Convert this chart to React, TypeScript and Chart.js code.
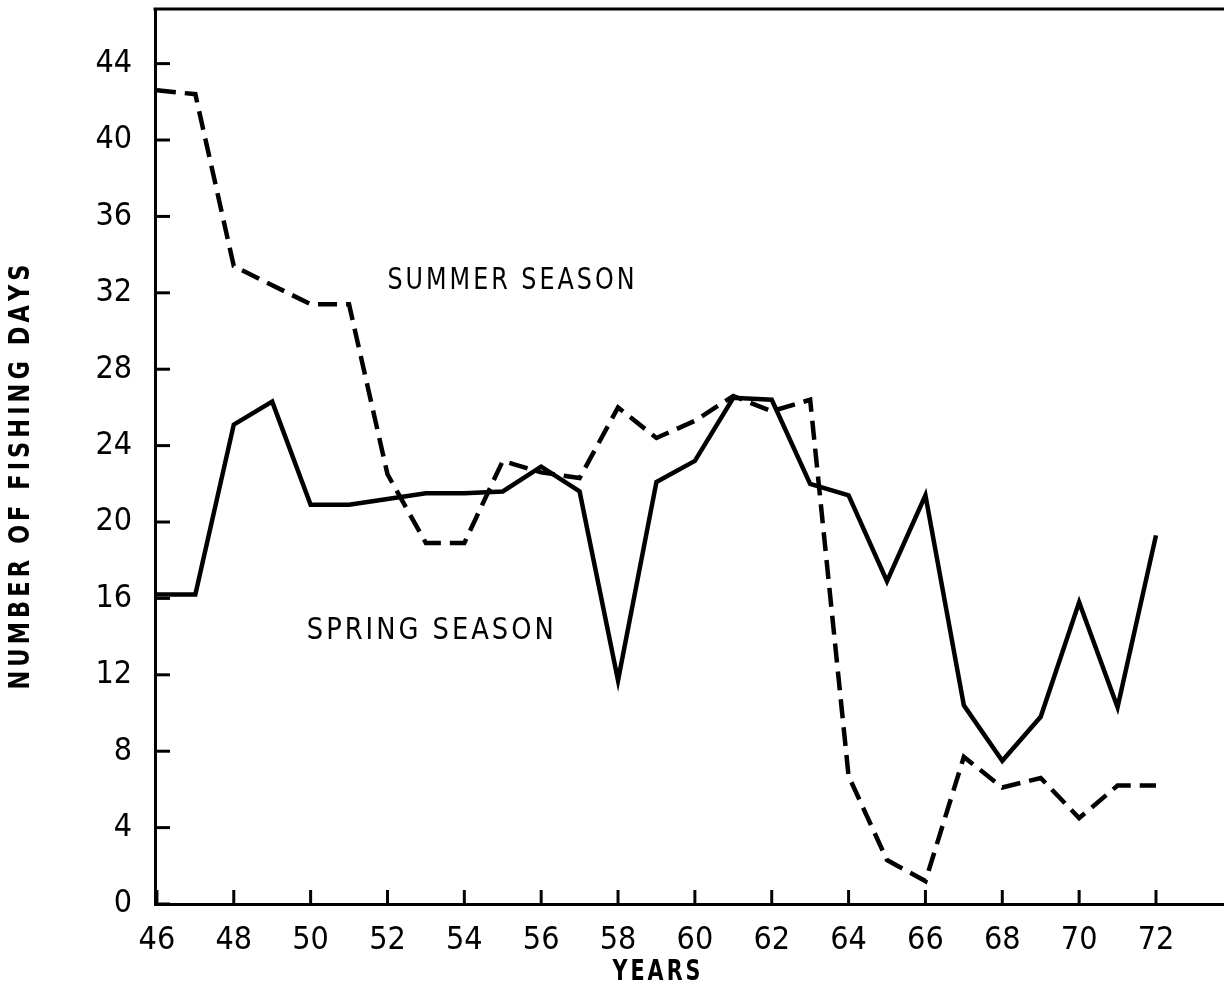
import React, { useEffect, useRef } from "react";
import { Chart, registerables } from "chart.js";

Chart.register(...registerables);

const years = [46, 47, 48, 49, 50, 51, 52, 53, 54, 55, 56, 57, 58, 59, 60, 61, 62, 63, 64, 65, 66, 67, 68, 69, 70, 71, 72];
const springSeason = [16.2, 16.2, 25.1, 26.3, 20.9, 20.9, 21.2, 21.5, 21.5, 21.6, 22.9, 21.6, 11.7, 22.1, 23.2, 26.5, 26.4, 22.0, 21.4, 16.9, 21.4, 10.4, 7.5, 9.8, 15.8, 10.3, 19.3];
const summerSeason = [42.6, 42.4, 33.4, 32.4, 31.4, 31.4, 22.5, 18.9, 18.9, 23.2, 22.6, 22.3, 26.0, 24.4, 25.3, 26.6, 25.8, 26.4, 6.7, 2.3, 1.2, 7.7, 6.1, 6.6, 4.5, 6.2, 6.2];
const xTickValues = [46, 48, 50, 52, 54, 56, 58, 60, 62, 64, 66, 68, 70, 72];
const yTickValues = [0, 4, 8, 12, 16, 20, 24, 28, 32, 36, 40, 44];
const xTitle = "YEARS";
const yTitle = "NUMBER OF FISHING DAYS";
const annotations = [
  { text: "SUMMER SEASON", x: 52.0, y: 32.6 },
  { text: "SPRING SEASON", x: 49.9, y: 14.3 },
];

const FONT = '"Liberation Sans Narrow", "DejaVu Sans Condensed", "DejaVu Sans", sans-serif';

// Draws text spread over targetWidth; glyphs are horizontally compressed if needed so that
// the gap between letters is at least minGap.
function spacedText(
  ctx: CanvasRenderingContext2D,
  text: string,
  x: number,
  y: number,
  targetWidth: number,
  align: "left" | "center",
  minGap: number
) {
  const chars = text.split("");
  const widths = chars.map((c) => ctx.measureText(c).width);
  const total = widths.reduce((a, b) => a + b, 0);
  const n = chars.length;
  let sx = 1;
  let gap = n > 1 ? (targetWidth - total) / (n - 1) : 0;
  if (gap < minGap) {
    sx = (targetWidth - minGap * (n - 1)) / total;
    gap = minGap;
  }
  let cx = align === "center" ? x - targetWidth / 2 : x;
  ctx.textAlign = "left";
  chars.forEach((c, i) => {
    ctx.save();
    ctx.translate(cx, y);
    ctx.scale(sx, 1);
    ctx.fillText(c, 0, 0);
    ctx.restore();
    cx += widths[i] * sx + gap;
  });
}

const decorPlugin = {
  id: "decor",
  afterDraw(chart: any) {
    const { ctx, chartArea, scales } = chart;
    const xs = scales.x;
    const ys = scales.y;
    ctx.save();
    ctx.strokeStyle = "#000";
    ctx.lineWidth = 3;
    ctx.lineCap = "butt";
    // top frame line
    ctx.beginPath();
    ctx.moveTo(chartArea.left - 1.5, chartArea.top);
    ctx.lineTo(chartArea.right, chartArea.top);
    ctx.stroke();
    // inward ticks
    yTickValues.forEach((v) => {
      const py = ys.getPixelForValue(v);
      ctx.beginPath();
      ctx.moveTo(chartArea.left, py);
      ctx.lineTo(chartArea.left + 15, py);
      ctx.stroke();
    });
    xTickValues.forEach((v) => {
      const px = xs.getPixelForValue(v);
      ctx.beginPath();
      ctx.moveTo(px, chartArea.bottom);
      ctx.lineTo(px, chartArea.bottom - 14);
      ctx.stroke();
    });
    // annotations
    ctx.fillStyle = "#000";
    ctx.font = `30px ${FONT}`;
    ctx.textBaseline = "middle";
    annotations.forEach((a) => {
      spacedText(ctx, a.text, xs.getPixelForValue(a.x), ys.getPixelForValue(a.y), 247, "left", 3);
    });
    // x title
    ctx.font = `bold 28px ${FONT}`;
    ctx.textBaseline = "middle";
    spacedText(ctx, xTitle, (chartArea.left + xs.getPixelForValue(72)) / 2 + 1, 973, 88, "center", 3);
    // y title
    ctx.save();
    ctx.translate(22, 477);
    ctx.rotate(-Math.PI / 2);
    ctx.font = `bold 28px ${FONT}`;
    ctx.textBaseline = "middle";
    spacedText(ctx, yTitle, 0, 0, 425, "center", 4);
    ctx.restore();
    ctx.restore();
  },
};

export default function App() {
  const ref = useRef<HTMLCanvasElement | null>(null);
  useEffect(() => {
    if (!ref.current) return;
    const chart = new Chart(ref.current, {
      type: "line",
      data: {
        datasets: [
          {
            label: "Spring season",
            data: years.map((yr, i) => ({ x: yr, y: springSeason[i] })),
            borderColor: "#000",
            borderWidth: 4.5,
            pointRadius: 0,
            tension: 0,
            fill: false,
            borderJoinStyle: "miter",
          },
          {
            label: "Summer season",
            data: years.map((yr, i) => ({ x: yr, y: summerSeason[i] })),
            borderColor: "#000",
            borderWidth: 4.5,
            borderDash: [19, 9],
            pointRadius: 0,
            tension: 0,
            fill: false,
            borderJoinStyle: "miter",
          },
        ],
      },
      options: {
        animation: false,
        responsive: true,
        maintainAspectRatio: false,
        layout: { padding: { left: 0, right: 0, top: 9, bottom: 0 } },
        plugins: { legend: { display: false }, tooltip: { enabled: false } },
        scales: {
          x: {
            type: "linear",
            min: 45.95,
            max: 73.77,
            afterBuildTicks: (scale: any) => {
              scale.ticks = xTickValues.map((v) => ({ value: v }));
            },
            afterFit: (scale: any) => {
              scale.height = 87;
              scale.paddingLeft = 0;
              scale.paddingRight = 0;
              scale.paddingTop = 0;
              scale.paddingBottom = 0;
            },
            grid: { display: false, drawTicks: false },
            border: { display: true, color: "#000", width: 3 },
            ticks: {
              color: "#000",
              font: { family: FONT, size: 32 },
              padding: 17,
              maxRotation: 0,
              autoSkip: false,
              callback: (v: any) => String(v),
            },
          },
          y: {
            type: "linear",
            min: 0,
            max: 46.86,
            afterBuildTicks: (scale: any) => {
              scale.ticks = yTickValues.map((v) => ({ value: v }));
            },
            afterFit: (scale: any) => {
              scale.width = 155;
              scale.paddingLeft = 0;
              scale.paddingRight = 0;
              scale.paddingTop = 0;
              scale.paddingBottom = 0;
            },
            grid: { display: false, drawTicks: false },
            border: { display: true, color: "#000", width: 3 },
            ticks: {
              color: "#000",
              font: { family: FONT, size: 32 },
              padding: 23,
              autoSkip: false,
              callback: (v: any) => String(v),
            },
          },
        },
      },
      plugins: [decorPlugin],
    });
    return () => chart.destroy();
  }, []);
  return (
    <div style={{ position: "fixed", left: 0, top: 0, width: 1224, height: 991, background: "#fff" }}>
      <canvas ref={ref} />
    </div>
  );
}
